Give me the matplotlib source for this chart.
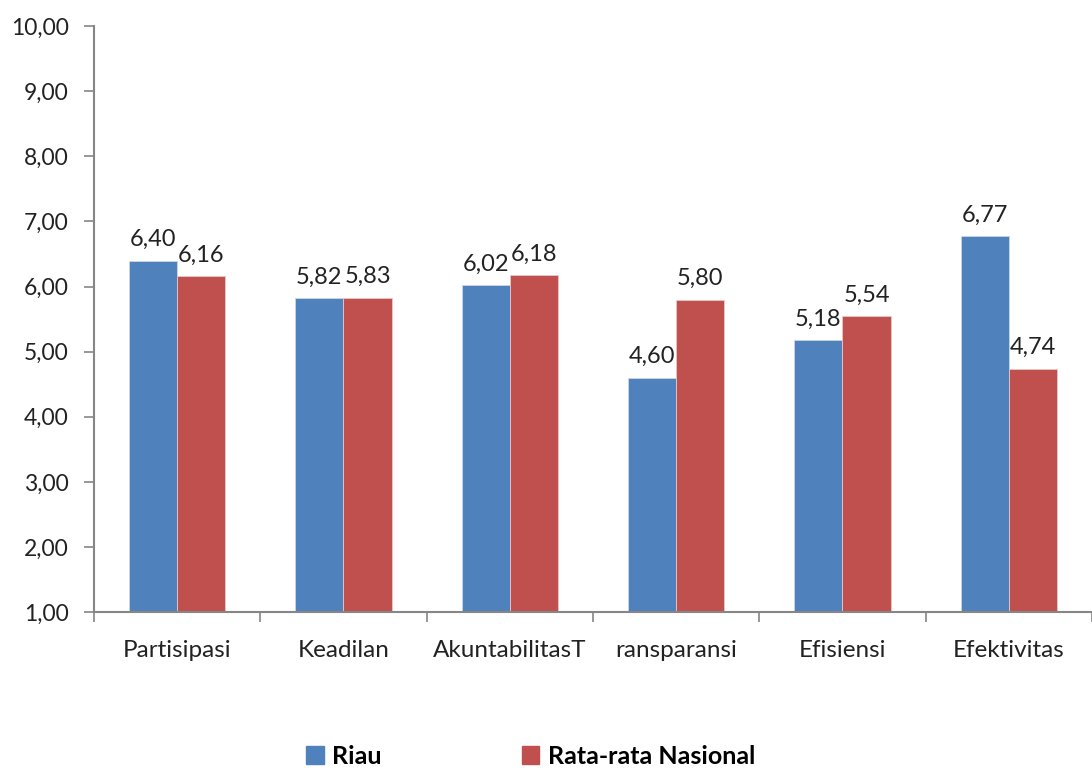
import numpy as np
import matplotlib.pyplot as plt
from matplotlib.patches import Patch

categories = ['Partisipasi', 'Keadilan', 'AkuntabilitasT', 'ransparansi', 'Efisiensi', 'Efektivitas']
riau = [6.40, 5.82, 6.02, 4.60, 5.18, 6.77]
nasional = [6.16, 5.83, 6.18, 5.80, 5.54, 4.74]
series_names = ['Riau', 'Rata-rata Nasional']
colors = ['#4F81BD', '#C0504D']

plt.rcParams['font.family'] = ['Lato', 'DejaVu Sans']

fig = plt.figure(figsize=(10.92, 7.68), dpi=100)
ax = fig.add_axes([0.086, 0.203, 0.914, 0.763])

x = np.arange(len(categories))
w = 0.29
ax.bar(x - w / 2, np.array(riau) - 1, w, bottom=1, color=colors[0],
       edgecolor='#c9d6e8', linewidth=0.6)
ax.bar(x + w / 2, np.array(nasional) - 1, w, bottom=1, color=colors[1],
       edgecolor='#e8c9c8', linewidth=0.6)

for xs, vals in [(x - w / 2, riau), (x + w / 2, nasional)]:
    for xi, v in zip(xs, vals):
        ax.text(xi, v + 0.16, ('%.2f' % v).replace('.', ','), ha='center', va='bottom',
                fontsize=17, color='#222222')

ax.set_xlim(-0.5, 5.5)
ax.set_ylim(1, 10)
ax.set_yticks(np.arange(1, 11))
ax.set_yticklabels([('%.2f' % t).replace('.', ',') for t in range(1, 11)], fontsize=16.5, color='#222222')

ax.set_xticks(np.arange(-0.5, 6.0, 1.0))
ax.set_xticklabels([])
ax.set_xticks(x, minor=True)
ax.set_xticklabels(categories, minor=True, fontsize=17.5, color='#222222')
ax.tick_params(axis='x', which='minor', length=0, pad=20)
ax.tick_params(axis='x', which='major', length=7, direction='out', color='#868686', width=1.2)
ax.tick_params(axis='y', length=7, direction='out', color='#868686', width=1.2, pad=11)

for s in ['top', 'right']:
    ax.spines[s].set_visible(False)
for s in ['left', 'bottom']:
    ax.spines[s].set_color('#868686')
    ax.spines[s].set_linewidth(1.5)

handles = [Patch(color=c) for c in colors]
fig.legend(handles, series_names, loc='center', bbox_to_anchor=(0.486, 0.015),
           ncol=2, frameon=False, handlelength=0.7, handleheight=0.7,
           handletextpad=0.35, columnspacing=5.6,
           prop={'size': 18, 'weight': 'bold'})

fig.savefig('out.png', dpi=100)
